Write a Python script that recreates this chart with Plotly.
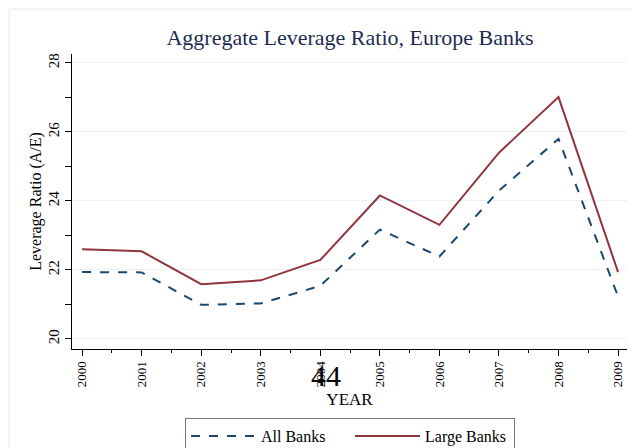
import plotly.graph_objects as go

years = [2000, 2001, 2002, 2003, 2004, 2005, 2006, 2007, 2008, 2009]
all_banks = [21.94, 21.93, 20.99, 21.03, 21.54, 23.17, 22.39, 24.30, 25.80, 21.23]
large_banks = [22.60, 22.54, 21.59, 21.70, 22.29, 24.16, 23.31, 25.40, 27.01, 21.94]
y_ticks = [20, 22, 24, 26, 28]

serif = "Liberation Serif"

fig = go.Figure()
fig.add_trace(go.Scatter(x=years, y=all_banks, mode="lines", name="All Banks",
                         line=dict(color="#1a476f", width=2, dash="dash")))
fig.add_trace(go.Scatter(x=years, y=large_banks, mode="lines", name="Large Banks",
                         line=dict(color="#90353b", width=2)))

fig.update_layout(
    width=632, height=448,
    margin=dict(l=72, r=5, t=54, b=99),
    paper_bgcolor="white", plot_bgcolor="white",
    font=dict(family=serif, color="black", size=12),
    title=dict(text="Aggregate Leverage Ratio, Europe Banks", x=350 / 632, xanchor="center",
               y=1 - 37 / 448, yanchor="middle",
               font=dict(family=serif, size=22, color="#1e2c53")),
    showlegend=True,
    legend=dict(orientation="h", x=(350 - 72) / 555, xanchor="center",
                yref="container", y=1 - 418 / 448, yanchor="top",
                bordercolor="#777777", borderwidth=1, bgcolor="white",
                font=dict(family=serif, size=16), itemwidth=65, entrywidth=84),
    xaxis=dict(range=[1999.83, 2009.15], tickmode="array", tickvals=years,
               ticktext=[str(y) for y in years], tickangle=-90,
               showgrid=False, zeroline=False, showline=True, linecolor="black", linewidth=1,
               ticks="outside", ticklen=6, tickcolor="black",
               minor=dict(dtick=0.5, tick0=1999.5, ticks="outside", ticklen=3, tickcolor="black", showgrid=False),
               title=dict(text="YEAR", font=dict(family=serif, size=17), standoff=6),
               tickfont=dict(family=serif, size=13)),
    yaxis=dict(range=[19.71, 28.26], tickmode="array", tickvals=y_ticks, tickangle=-90,
               showgrid=True, gridcolor="#eaf2f3", gridwidth=1, zeroline=False,
               showline=True, linecolor="black", linewidth=1,
               ticks="outside", ticklen=6, tickcolor="black",
               minor=dict(dtick=1, tick0=20, ticks="outside", ticklen=6, tickcolor="black", showgrid=False),
               title=dict(text="Leverage Ratio (A/E)", font=dict(family=serif, size=16), standoff=0),
               tickfont=dict(family=serif, size=15)),
)

fig.add_annotation(text="44", xref="paper", yref="paper", x=(326 - 72) / 555, y=(349 - 375) / 295,
                   showarrow=False, font=dict(family=serif, size=30, color="black"),
                   xanchor="center", yanchor="middle")

fig.add_shape(type="rect", xref="paper", yref="paper",
              x0=(9 - 72) / 555, x1=(640 - 72) / 555, y0=(349 - 460) / 295, y1=(349 - 9) / 295,
              line=dict(color="#e3ecee", width=1), layer="below")

fig.write_html("out.html", config={"displayModeBar": False},
               post_script="document.body.style.margin='0';document.body.style.overflow='hidden';")
